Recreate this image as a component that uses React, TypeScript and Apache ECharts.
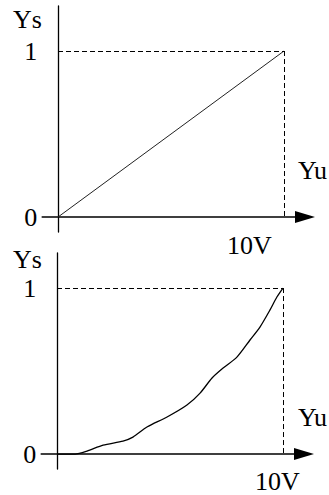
import React, { useEffect, useRef } from "react";
import * as echarts from "echarts";

// ---- data ----
const linearX: number[] = [0, 10];
const linearY: number[] = [0, 1];

const curveX: number[] = [0, 0.8, 1.33, 2.04, 2.92, 3.36, 3.98, 4.87, 5.75, 6.33, 6.86, 7.35, 7.96, 8.54, 8.98, 9.42, 9.73, 10];
const curveY: number[] = [0, 0, 0.018, 0.054, 0.078, 0.102, 0.163, 0.223, 0.295, 0.367, 0.458, 0.518, 0.584, 0.687, 0.765, 0.867, 0.946, 1.0];

const yTicks: number[] = [0, 1];
const yName = "Ys";
const xName = "Yu";
const xMaxLabel = "10V";
const fullX = 10;
const fullY = 1;

const FONT = "'Liberation Serif', 'Times New Roman', serif";
const FS = 26;

export default function App() {
  const ref = useRef<HTMLDivElement>(null);
  useEffect(() => {
    if (!ref.current) return;
    const chart = echarts.init(ref.current, null, { renderer: "svg" });
    const u = 22.6;
    const X_MIN = -0.7;
    const X_MAX = 10.93;
    const gridW = (X_MAX - X_MIN) * u;

    const mkX = (gi: number) => ({
      type: "value" as const,
      gridIndex: gi,
      min: X_MIN,
      max: X_MAX,
      axisLine: {
        show: true,
        onZero: true,
        symbol: ["none", "triangle"],
        symbolSize: [12, 20],
        lineStyle: { color: "#000", width: 1.5 },
      },
      axisTick: { show: false },
      axisLabel: { show: false },
      splitLine: { show: false },
    });
    const mkY = (gi: number, max: number) => ({
      type: "value" as const,
      gridIndex: gi,
      min: -0.09,
      max,
      axisLine: { show: true, onZero: true, lineStyle: { color: "#000", width: 1.3 } },
      axisTick: { show: false },
      axisLabel: {
        show: true,
        customValues: yTicks,
        margin: 5,
        color: "#000",
        fontFamily: FONT,
        fontSize: FS,
      },
      splitLine: { show: false },
    });
    const markLine = {
      silent: true,
      symbol: ["none", "none"],
      label: { show: false },
      lineStyle: { color: "#000", type: [5, 3], width: 1 },
      data: [
        [{ coord: [0, fullY] }, { coord: [fullX, fullY] }],
        [{ coord: [fullX, fullY] }, { coord: [fullX, 0] }],
      ],
    };
    const txt = (text: string, x: number, y: number) => ({
      type: "text",
      x,
      y,
      style: {
        text,
        fill: "#000",
        font: `${FS}px ${FONT}`,
        verticalAlign: "middle",
        align: "left",
      },
    });

    chart.setOption({
      animation: false,
      backgroundColor: "#fff",
      grid: [
        { left: 58 - 0.7 * u, top: 6, width: gridW, height: 226 },
        { left: 57 - 0.7 * u, top: 253, width: gridW, height: 216 },
      ],
      xAxis: [mkX(0), mkX(1)],
      yAxis: [mkY(0, 1.271), mkY(1, 1.211)],
      series: [
        {
          type: "line",
          xAxisIndex: 0,
          yAxisIndex: 0,
          data: linearX.map((x, i) => [x, linearY[i]]),
          showSymbol: false,
          lineStyle: { color: "#222", width: 1 },
          markLine,
        },
        {
          type: "line",
          xAxisIndex: 1,
          yAxisIndex: 1,
          data: curveX.map((x, i) => [x, curveY[i]]),
          showSymbol: false,
          smooth: 0.25,
          lineStyle: { color: "#000", width: 1.3 },
          markLine,
        },
      ],
      graphic: [
        txt(yName, 13, 19),
        txt(xName, 298, 170),
        txt(xMaxLabel, 227, 245),
        txt(yName, 13, 259),
        txt(xName, 298, 417),
        txt(xMaxLabel, 255, 481),
      ],
    });
    return () => chart.dispose();
  }, []);
  return (
    <div
      ref={ref}
      style={{ position: "absolute", left: 0, top: 0, width: 329, height: 495 }}
    />
  );
}
